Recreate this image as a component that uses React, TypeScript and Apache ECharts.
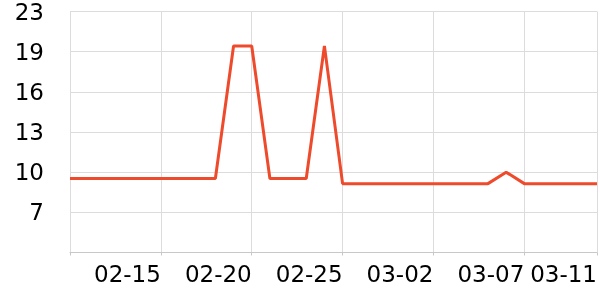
import React, { useEffect, useRef } from 'react';
import * as echarts from 'echarts';

const dates: string[] = [
  '02-10', '02-11', '02-12', '02-13', '02-14', '02-15', '02-16', '02-17', '02-18', '02-19',
  '02-20', '02-21', '02-22', '02-23', '02-24', '02-25', '02-26', '02-27', '02-28', '03-01',
  '03-02', '03-03', '03-04', '03-05', '03-06', '03-07', '03-08', '03-09', '03-10', '03-11',
];

const values: number[] = [
  9.5, 9.5, 9.5, 9.5, 9.5, 9.5, 9.5, 9.5, 9.5, 19.9,
  19.9, 9.5, 9.5, 9.5, 19.9, 9.1, 9.1, 9.1, 9.1, 9.1,
  9.1, 9.1, 9.1, 9.1, 10, 9.1, 9.1, 9.1, 9.1, 9.1,
];

const yMin = 3.7;
const yMax = 22.6;
const yInterval = 3.15;

export default function App() {
  const ref = useRef<HTMLDivElement>(null);
  useEffect(() => {
    if (!ref.current) return;
    const chart = echarts.init(ref.current, null, { renderer: 'svg' });
    chart.setOption({
      animation: false,
      grid: { left: 70, right: 1, top: 10, bottom: 47.5, containLabel: false },
      xAxis: {
        type: 'category',
        data: dates,
        boundaryGap: false,
        axisLine: { lineStyle: { color: '#c8c8c8', width: 1 } },
        axisTick: { length: 3, interval: 4, lineStyle: { color: '#c8c8c8' } },
        axisLabel: {
          interval: 4,
          showMaxLabel: true,
          align: 'right',
          fontSize: 23,
          color: '#000',
          margin: 10,
          fontFamily: 'DejaVu Sans',
          formatter: (v: string, i: number) => (i === 0 ? '' : v),
        },
        splitLine: { show: true, interval: 4, lineStyle: { color: '#dcdcdc' } },
      },
      yAxis: {
        type: 'value',
        min: yMin,
        max: yMax,
        interval: yInterval,
        axisLine: { show: false },
        axisTick: { show: false },
        splitLine: { lineStyle: { color: '#dcdcdc' } },
        axisLabel: {
          showMinLabel: false,
          fontSize: 23,
          color: '#000',
          margin: 26,
          fontFamily: 'DejaVu Sans',
          formatter: (v: number) => String(Math.round(v)),
        },
      },
      series: [
        {
          type: 'line',
          data: values,
          symbol: 'none',
          lineStyle: { color: '#ee4a2c', width: 3 },
        },
      ],
    });
    return () => chart.dispose();
  }, []);
  return (
    <div
      ref={ref}
      style={{ position: 'fixed', left: 0, top: 0, width: 600, height: 300 }}
    />
  );
}
